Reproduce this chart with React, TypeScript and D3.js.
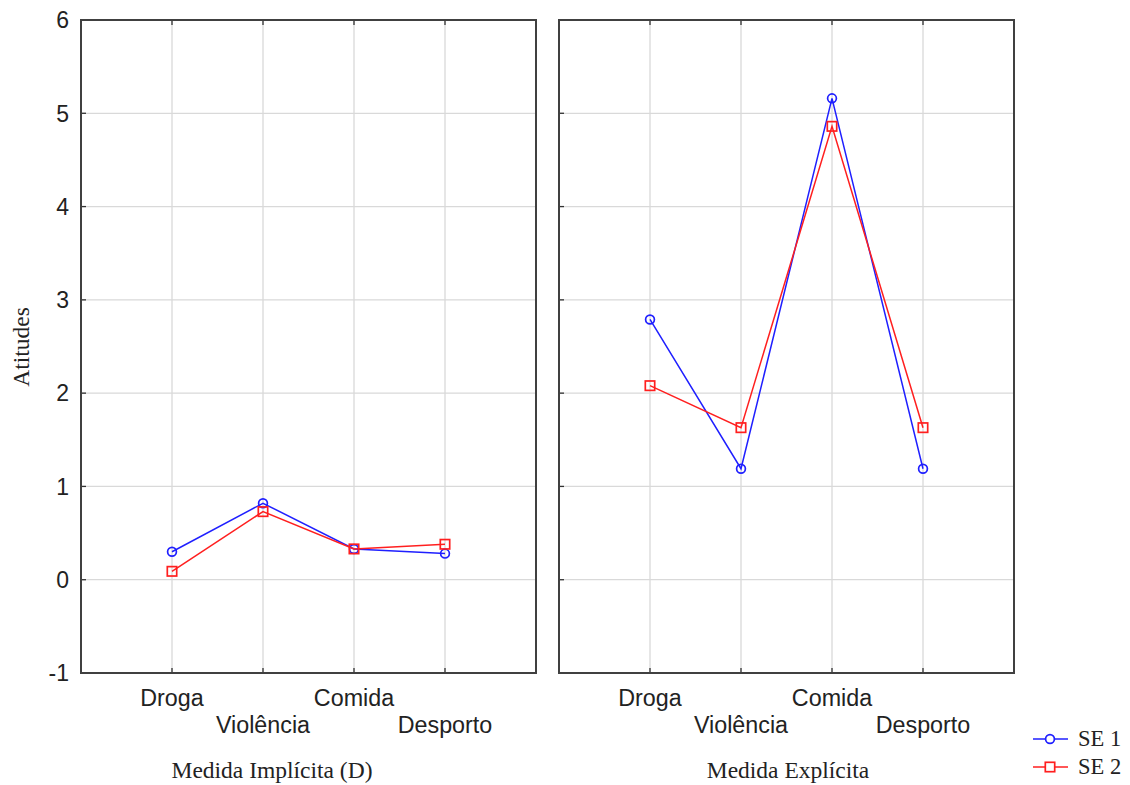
import React from "react";
import * as d3 from "d3";

const categories = ["Droga", "Violência", "Comida", "Desporto"];
const panels = ["Medida Implícita (D)", "Medida Explícita"];
const yTicks = [-1, 0, 1, 2, 3, 4, 5, 6];
const se1Implicit = [0.3, 0.82, 0.33, 0.28];
const se2Implicit = [0.09, 0.73, 0.33, 0.38];
const se1Explicit = [2.79, 1.19, 5.16, 1.19];
const se2Explicit = [2.08, 1.63, 4.86, 1.63];
const seriesNames = ["SE 1", "SE 2"];

const W = 1130;
const H = 785;
const panelX = [
  [81, 536],
  [559, 1014],
];
const top = 20;
const bottom = 673;
const blue = "#1f1fff";
const red = "#ff1f1f";
const sans = "'Liberation Sans', Arial, sans-serif";
const serif = "'Liberation Serif', 'Times New Roman', serif";
const titleCenters = [272, 788];

export default function App() {
  const y = d3.scaleLinear().domain([-1, 6]).range([bottom, top]);
  const data = [
    [se1Implicit, se2Implicit],
    [se1Explicit, se2Explicit],
  ];
  const colors = [blue, red];

  return (
    <svg
      width={W}
      height={H}
      style={{ position: "absolute", left: 0, top: 0, background: "#fff" }}
    >
      {panels.map((title, pi) => {
        const [x0, x1] = panelX[pi];
        const x = d3.scaleLinear().domain([0, 5]).range([x0, x1]);
        const line = d3
          .line<number>()
          .x((_, i) => x(i + 1))
          .y((d) => y(d));
        return (
          <g key={pi}>
            {yTicks.map((t) => (
              <line
                key={"gy" + t}
                x1={x0}
                x2={x1}
                y1={y(t)}
                y2={y(t)}
                stroke="#d9d9d9"
                strokeWidth={1.3}
              />
            ))}
            {categories.map((c, i) => (
              <line
                key={"gx" + c}
                x1={x(i + 1)}
                x2={x(i + 1)}
                y1={top}
                y2={bottom}
                stroke="#d9d9d9"
                strokeWidth={1.3}
              />
            ))}
            {yTicks.map((t) => (
              <line
                key={"ty" + t}
                x1={x0}
                x2={x0 + 5}
                y1={y(t)}
                y2={y(t)}
                stroke="#333"
                strokeWidth={1.3}
              />
            ))}
            {categories.map((c, i) => (
              <g key={"tx" + c}>
                <line
                  x1={x(i + 1)}
                  x2={x(i + 1)}
                  y1={bottom}
                  y2={bottom - 5}
                  stroke="#333"
                  strokeWidth={1.3}
                />
                <line
                  x1={x(i + 1)}
                  x2={x(i + 1)}
                  y1={top}
                  y2={top + 5}
                  stroke="#333"
                  strokeWidth={1.3}
                />
              </g>
            ))}
            <rect
              x={x0}
              y={top}
              width={x1 - x0}
              height={bottom - top}
              fill="none"
              stroke="#404040"
              strokeWidth={2}
            />
            {data[pi].map((vals, si) => (
              <g key={"s" + si}>
                <path
                  d={line(vals) || ""}
                  fill="none"
                  stroke={colors[si]}
                  strokeWidth={1.5}
                />
                {vals.map((v, i) =>
                  si === 0 ? (
                    <circle
                      key={i}
                      cx={x(i + 1)}
                      cy={y(v)}
                      r={4.4}
                      fill="none"
                      stroke={colors[si]}
                      strokeWidth={1.7}
                    />
                  ) : (
                    <rect
                      key={i}
                      x={x(i + 1) - 4.7}
                      y={y(v) - 4.7}
                      width={9.4}
                      height={9.4}
                      fill="none"
                      stroke={colors[si]}
                      strokeWidth={1.7}
                    />
                  )
                )}
              </g>
            ))}
            {categories.map((c, i) => (
              <text
                key={"lx" + c}
                x={x(i + 1)}
                y={i % 2 === 0 ? 706 : 733}
                textAnchor="middle"
                fontFamily={sans}
                fontSize={23.3}
                fill="#222"
              >
                {c}
              </text>
            ))}
            <text
              x={titleCenters[pi]}
              y={778}
              textAnchor="middle"
              fontFamily={serif}
              fontSize={23.5}
              fill="#222"
            >
              {title}
            </text>
          </g>
        );
      })}
      {yTicks.map((t) => (
        <text
          key={"yl" + t}
          x={69}
          y={y(t)}
          dy="0.36em"
          textAnchor="end"
          fontFamily={sans}
          fontSize={23}
          fill="#222"
        >
          {t}
        </text>
      ))}
      <text
        transform={`translate(29,${347}) rotate(-90)`}
        textAnchor="middle"
        fontFamily={serif}
        fontSize={23.5}
        fill="#222"
      >
        Atitudes
      </text>
      {seriesNames.map((n, si) => {
        const ly = 739 + si * 28;
        return (
          <g key={n}>
            <line
              x1={1033}
              x2={1068}
              y1={ly}
              y2={ly}
              stroke={colors[si]}
              strokeWidth={1.5}
            />
            {si === 0 ? (
              <circle
                cx={1050}
                cy={ly}
                r={4.4}
                fill="#fff"
                stroke={colors[si]}
                strokeWidth={1.7}
              />
            ) : (
              <rect
                x={1045.3}
                y={ly - 4.7}
                width={9.4}
                height={9.4}
                fill="#fff"
                stroke={colors[si]}
                strokeWidth={1.7}
              />
            )}
            <text
              x={1078}
              y={ly + 7}
              fontFamily={serif}
              fontSize={22.5}
              fill="#222"
            >
              {n}
            </text>
          </g>
        );
      })}
    </svg>
  );
}
